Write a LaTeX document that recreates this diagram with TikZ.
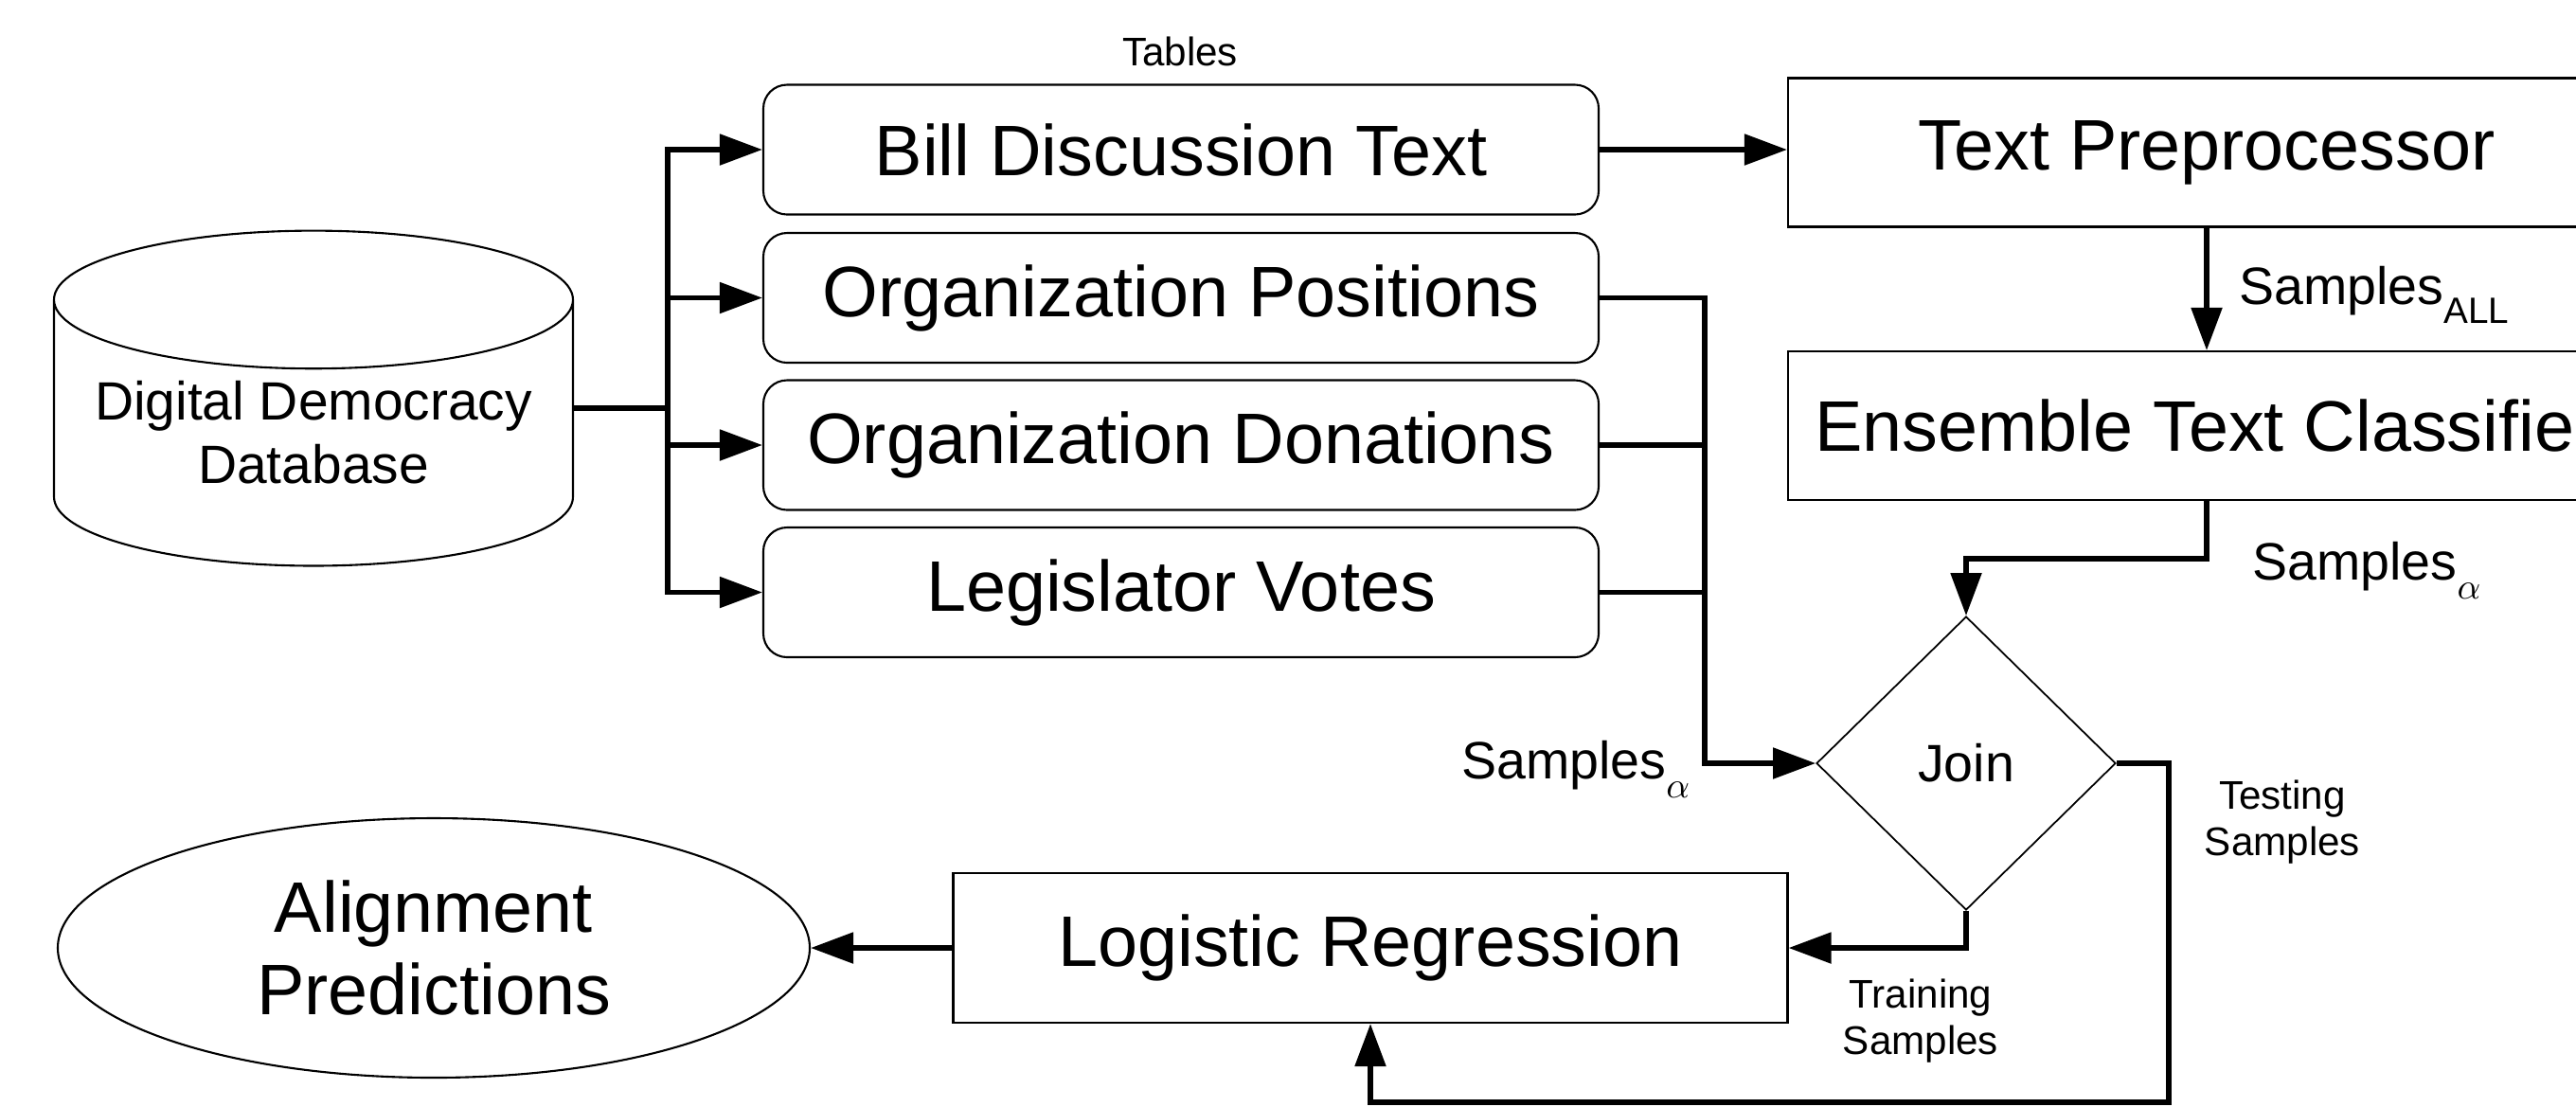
\documentclass[tikz,border=0pt]{standalone}
\usepackage{fontspec}
\setmainfont{Liberation Sans}
\usetikzlibrary{shapes.geometric,arrows.meta}

\newcommand{\lowsub}[1]{\raisebox{-0.37em}{\fontsize{11}{11}\selectfont #1}}

\begin{document}
\begin{tikzpicture}[
    tablebox/.style={draw,rounded corners=0.25cm,minimum width=8.82cm,minimum height=1.37cm,line width=0.6pt,font=\fontsize{21.5}{25}\selectfont},
    procbox/.style={draw,minimum width=8.84cm,minimum height=1.57cm,line width=0.6pt,font=\fontsize{21.5}{25}\selectfont},
    flow/.style={line width=1.5pt,-{Triangle[length=4.5mm,width=3.2mm]}},
    feed/.style={line width=1.5pt},
    smalltext/.style={font=\fontsize{12}{14}\selectfont,align=center},
    midtext/.style={font=\fontsize{15.8}{18}\selectfont}
]

    \useasboundingbox (0,0) rectangle (27.2,-11.68);
    \clip (0,0) rectangle (27.2,-11.68);

    \node[draw,cylinder,shape border rotate=90,aspect=0.3,minimum width=5.48cm,minimum height=3.32cm,line width=0.6pt,align=center,text depth=0.24cm,font=\fontsize{16.2}{19}\selectfont] (db) at (3.31,-4.68) {Digital Democracy\\Database};
    \node[tablebox] (bill) at (12.47,-1.58) {Bill Discussion Text};
    \node[tablebox] (pos) at (12.47,-3.145) {Organization Positions};
    \node[tablebox] (don) at (12.47,-4.70) {Organization Donations};
    \node[tablebox] (votes) at (12.47,-6.255) {Legislator Votes};
    \node[smalltext] (tables) at (12.46,-0.54) {Tables};
    \node[procbox] (tp) at (23.30,-1.61) {Text Preprocessor};
    \node[procbox] (etc) at (23.30,-4.495) {Ensemble Text Classifier};
    \node[draw,diamond,minimum width=3.16cm,minimum height=3.1cm,inner sep=0pt,line width=0.5pt,midtext] (join) at (20.76,-8.06) {Join};
    \node[procbox,minimum width=8.81cm,minimum height=1.58cm] (lr) at (14.47,-10.01) {Logistic Regression};
    \node[draw,ellipse,minimum width=7.94cm,minimum height=2.74cm,inner sep=0pt,line width=0.6pt,align=center,font=\fontsize{21.5}{24.75}\selectfont] (align) at (4.58,-10.01) {Alignment\\Predictions};

    \node[midtext,anchor=base west] (allsmp) at (23.52,-3.21) {Samples\lowsub{ALL}};
    \node[midtext,anchor=base west] (clssmp) at (23.66,-6.12) {Samples\lowsub{$\alpha$}};
    \node[midtext,anchor=base west] (joinsmp) at (15.31,-8.22) {Samples\lowsub{$\alpha$}};
    \node[smalltext] (train) at (20.28,-10.78) {Training\\Samples};
    \node[smalltext] (test) at (24.10,-8.68) {Testing\\Samples};

    \coordinate (split) at (7.05,-4.31);
    \coordinate (merge) at (18.00,-8.06);
    \coordinate (back) at (22.90,-11.64);

    \draw[feed] (db.east |- split) -- (split);
    \foreach \t in {bill,pos,don,votes}
        \draw[flow] (split) |- (\t.west);
    \draw[flow] (bill.east) -- (bill.east -| tp.west);
    \draw[flow] (tp.south) -- (etc.north);
    \draw[flow] (etc.south) -- ++(0,-0.61) -| (join.north);
    \draw[flow] (pos.east) -| (merge) -- (join.west);
    \draw[feed] (don.east) -- (don.east -| merge);
    \draw[feed] (votes.east) -- (votes.east -| merge);
    \draw[flow] (join.east) -| (back) -| (lr.south);
    \draw[flow] (join.south) |- (lr.east);
    \draw[flow] (lr.west) -- (align.east);
\end{tikzpicture}
\end{document}
